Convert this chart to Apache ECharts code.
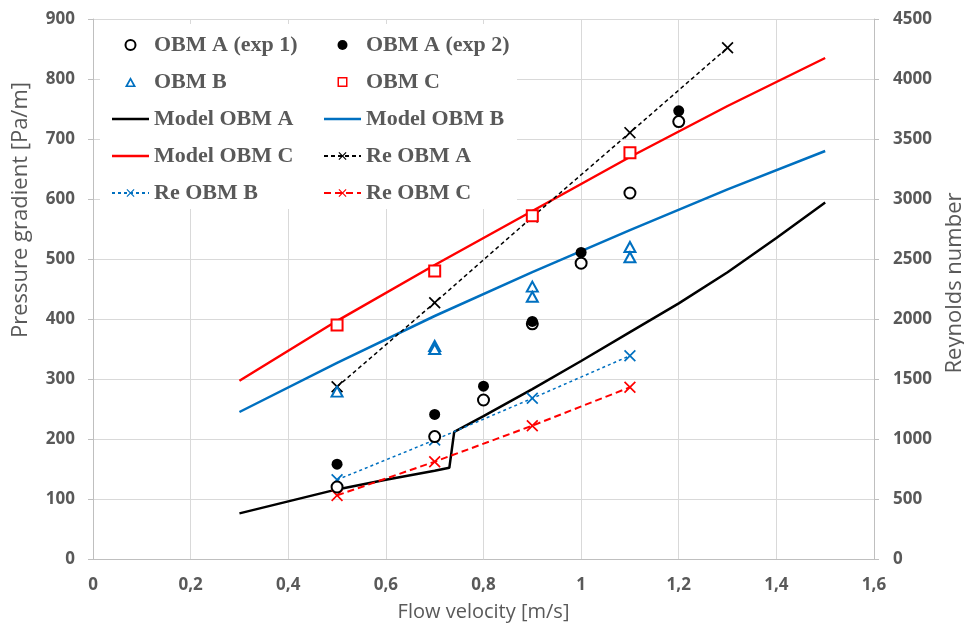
<!DOCTYPE html>
<html>
<head>
<meta charset="utf-8">
<script src="https://cdn.jsdelivr.net/npm/echarts@6/dist/echarts.min.js"></script>
<style>
  html, body { margin: 0; padding: 0; background: #fff; }
  #chart { width: 964px; height: 629px; }
</style>
</head>
<body>
<div id="chart"></div>
<script>
// measurements: [flow velocity m/s, pressure gradient Pa/m]
const obmAExp1 = [[0.5, 120], [0.7, 204], [0.8, 265], [0.9, 392], [1.0, 493], [1.1, 610], [1.2, 729]]
const obmAExp2 = [[0.5, 158], [0.7, 241], [0.8, 288], [0.9, 396], [1.0, 511], [1.2, 747]]
const obmB = [[0.5, 279], [0.7, 355], [0.7, 350], [0.9, 454], [0.9, 437], [1.1, 520], [1.1, 503]]
const obmC = [[0.5, 390], [0.7, 480], [0.9, 572], [1.1, 677]]

// model curves
const modelA = [[0.3, 76], [0.4, 96], [0.5, 116], [0.6, 132], [0.7, 147], [0.73, 152], [0.74, 212],
  [0.8, 238], [0.9, 283], [1.0, 330], [1.1, 378], [1.2, 426], [1.3, 478], [1.4, 535], [1.5, 594]]
const modelB = [[0.3, 245], [0.5, 327], [0.7, 405], [0.9, 478], [1.1, 548], [1.3, 616], [1.5, 680]]
const modelC = [[0.3, 297], [0.5, 397], [0.7, 490], [0.9, 580], [1.1, 670], [1.3, 755], [1.5, 835]]

// Reynolds number (right axis)
const reA = [[0.5, 1435], [0.7, 2136], [0.9, 2850], [1.1, 3553], [1.3, 4261]]
const reB = [[0.5, 660], [0.7, 992], [0.9, 1339], [1.1, 1694]]
const reC = [[0.5, 530], [0.7, 811], [0.9, 1111], [1.1, 1431]]

const BLUE = '#0070c0'
const RED = '#ff0000'
const GREY_TXT = '#595959'
const CROSS = 'path://M0,1L1,0L5,4L9,0L10,1L6,5L10,9L9,10L5,6L1,10L0,9L4,5Z'
// legend icons
const BAR_ICON = 'path://M0,0H148V10H0Z'
const RECT_RING = 'path://M0,0H10V10H0Z M1.5,1.5V8.5H8.5V1.5Z'
const TRI_RING = 'path://M5,0L10,9L0,9Z M5,3.1L2.6,7.6L7.4,7.6Z'

const chart = echarts.init(document.getElementById('chart'))

const tickLabel = {
  fontFamily: 'Open Sans',
  fontSize: 17,
  fontWeight: 'bold',
  color: GREY_TXT
}
const titleText = {
  fontFamily: 'Open Sans',
  fontSize: 20,
  color: GREY_TXT
}
const legendText = {
  fontFamily: 'Liberation Serif',
  fontWeight: 'bold',
  fontSize: 22,
  lineHeight: 24,
  color: GREY_TXT
}
const legendBase = {
  orient: 'vertical',
  top: 28,
  itemWidth: 37,
  itemHeight: 10,
  itemGap: 13,
  selectedMode: false,
  textStyle: legendText
}

const reLine = (name, data, color, dash, width) => ({
  name,
  type: 'line',
  yAxisIndex: 1,
  data,
  symbol: CROSS,
  symbolSize: 12,
  showSymbol: true,
  color,
  itemStyle: { color, opacity: 1 },
  lineStyle: { color, width, type: dash },
  z: 3
})

const modelLine = (name, data, color) => ({
  name,
  type: 'line',
  data,
  symbol: 'none',
  color,
  lineStyle: { color, width: 2.5 }
})

const option = {
  backgroundColor: '#fff',
  animation: false,
  grid: { left: 93, right: 90, top: 19, bottom: 70, outerBoundsMode: 'none' },
  graphic: [{
    type: 'rect',
    left: 100,
    top: 24,
    z: 1,
    shape: { width: 417, height: 185 },
    style: { fill: '#fff' }
  }],
  legend: [
    Object.assign({}, legendBase, {
      left: 106,
      data: [
        'OBM A (exp 1)',
        { name: 'OBM B', icon: TRI_RING, itemStyle: { color: BLUE, borderWidth: 0 } },
        { name: 'Model OBM A', icon: BAR_ICON, itemStyle: { color: '#000', borderWidth: 0 } },
        { name: 'Model OBM C', icon: BAR_ICON, itemStyle: { color: RED, borderWidth: 0 } },
        'Re OBM B'
      ]
    }),
    Object.assign({}, legendBase, {
      left: 318,
      data: [
        'OBM A (exp 2)',
        { name: 'OBM C', icon: RECT_RING, itemStyle: { color: RED, borderWidth: 0 } },
        { name: 'Model OBM B', icon: BAR_ICON, itemStyle: { color: BLUE, borderWidth: 0 } },
        'Re OBM A',
        'Re OBM C'
      ]
    })
  ],
  xAxis: {
    type: 'value',
    min: 0,
    max: 1.6,
    interval: 0.2,
    name: 'Flow velocity [m/s]',
    nameLocation: 'middle',
    nameGap: 43,
    nameTextStyle: titleText,
    axisLine: { show: true, lineStyle: { color: '#bfbfbf' } },
    axisTick: { show: false },
    axisLabel: Object.assign({}, tickLabel, {
      margin: 18,
      formatter: v => String(+v.toFixed(1)).replace('.', ',')
    }),
    splitLine: { show: true, lineStyle: { color: '#d9d9d9' } }
  },
  yAxis: [
    {
      type: 'value',
      min: 0,
      max: 900,
      interval: 100,
      name: 'Pressure gradient [Pa/m]',
      nameLocation: 'middle',
      nameGap: 61,
      nameTextStyle: Object.assign({}, titleText, { fontSize: 22, padding: [0, 0, 0, 158] }),
      axisLine: { show: true, lineStyle: { color: '#bfbfbf' } },
      axisTick: { show: true, length: 5, lineStyle: { color: '#bfbfbf' } },
      axisLabel: Object.assign({}, tickLabel, { margin: 18 }),
      splitLine: { show: true, lineStyle: { color: '#d9d9d9' } }
    },
    {
      type: 'value',
      position: 'right',
      min: 0,
      max: 4500,
      interval: 500,
      name: 'Reynolds number',
      nameLocation: 'middle',
      nameGap: 70,
      nameTextStyle: Object.assign({}, titleText, { fontSize: 22, padding: [0, 0, 0, 12] }),
      axisLine: { show: true, lineStyle: { color: '#bfbfbf' } },
      axisTick: { show: true, length: 5, lineStyle: { color: '#bfbfbf' } },
      axisLabel: Object.assign({}, tickLabel, { margin: 19, formatter: v => String(v) }),
      splitLine: { show: false }
    }
  ],
  series: [
    {
      name: 'OBM A (exp 1)',
      type: 'scatter',
      data: obmAExp1,
      symbol: 'emptyCircle',
      symbolSize: 11,
      itemStyle: { color: '#000', borderColor: '#000', borderWidth: 1.8, opacity: 1 },
      z: 4
    },
    {
      name: 'OBM A (exp 2)',
      type: 'scatter',
      data: obmAExp2,
      symbol: 'circle',
      symbolSize: 11,
      itemStyle: { color: '#000', opacity: 1 },
      z: 5
    },
    {
      name: 'OBM B',
      type: 'scatter',
      data: obmB,
      symbol: 'emptyTriangle',
      symbolSize: [11, 10],
      itemStyle: { color: BLUE, borderColor: BLUE, borderWidth: 1.8, opacity: 1 },
      z: 4
    },
    {
      name: 'OBM C',
      type: 'scatter',
      data: obmC,
      symbol: 'emptyRect',
      symbolSize: 11,
      itemStyle: { color: RED, borderColor: RED, borderWidth: 1.6, opacity: 1 },
      z: 4
    },
    modelLine('Model OBM A', modelA, '#000'),
    modelLine('Model OBM B', modelB, BLUE),
    modelLine('Model OBM C', modelC, RED),
    reLine('Re OBM A', reA, '#000', [4, 3], 1.5),
    reLine('Re OBM B', reB, BLUE, [3, 3], 1.5),
    reLine('Re OBM C', reC, RED, [7, 4], 2)
  ]
}

chart.setOption(option)
window.addEventListener('resize', () => chart.resize())
</script>
</body>
</html>
